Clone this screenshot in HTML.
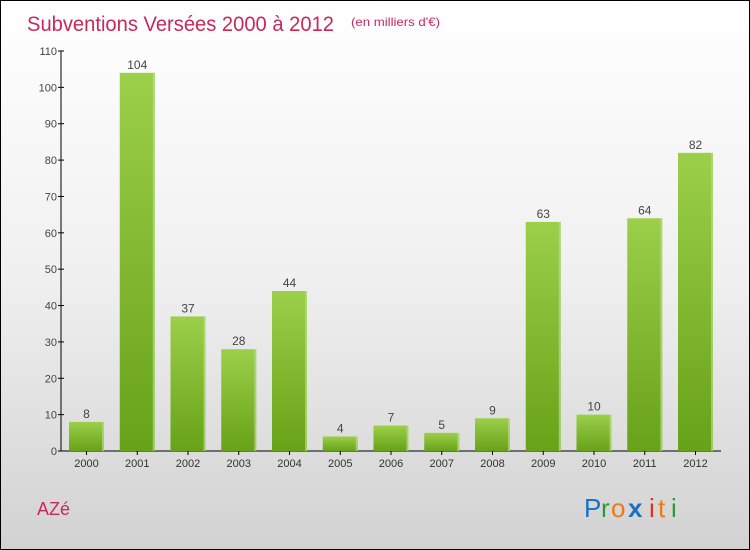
<!DOCTYPE html>
<html><head><meta charset="utf-8"><style>
body{margin:0}
#wrap{position:relative;width:748px;height:548px;border:1px solid #000;background:linear-gradient(#ffffff 0%,#f0f0f0 50%,#d2d2d2 100%);font-family:"Liberation Sans",sans-serif;overflow:hidden}
svg{position:absolute;left:0;top:0}
</style></head><body>
<div id="wrap">
<svg id="chart" width="750" height="550">
<defs>
<linearGradient id="bg" x1="0" y1="0" x2="0" y2="1"><stop offset="0" stop-color="#9ccf4a"/><stop offset="1" stop-color="#67a218"/></linearGradient>
</defs>
<text x="26" y="30" font-size="21" fill="#c8285c" textLength="307" lengthAdjust="spacingAndGlyphs">Subventions Versées 2000 à 2012</text>
<text x="350" y="25" font-size="12" fill="#c8285c" textLength="89" lengthAdjust="spacingAndGlyphs">(en milliers d'€)</text>
<text x="36" y="514" font-size="18" fill="#c8285c">AZé</text>
<g font-size="26" font-family="'Liberation Sans',sans-serif">
<text x="583" y="516" fill="#1a70c8">P</text><text x="600" y="516" fill="#2a9a3a">r</text><text x="610" y="516" fill="#f07a10">o</text><text x="627" y="516" fill="#1a70c8" font-weight="bold">x</text><text x="648" y="516" fill="#e03020">i</text><text x="657" y="516" fill="#f07a10">t</text><text x="670" y="516" fill="#2a9a3a">i</text>
</g>
</svg>
</div>
<script>
const categories=["2000","2001","2002","2003","2004","2005","2006","2007","2008","2009","2010","2011","2012"];
const values=[8,104,37,28,44,4,7,5,9,63,10,64,82];
const yTicks=[0,10,20,30,40,50,60,70,80,90,100,110];
const NS="http://www.w3.org/2000/svg";
const svg=document.getElementById('chart');
const y0=450,yTop=50,yMax=110,x0=60,step=50.75,bw=35;
function yScale(v){return y0-(v/yMax)*(y0-yTop);}
function xCenter(i){return 85.5+i*step;}
function mk(t,a){const e=document.createElementNS(NS,t);for(const k in a)e.setAttribute(k,a[k]);svg.appendChild(e);return e;}
let ax=mk('line',{x1:x0,y1:yTop,x2:x0,y2:y0,stroke:'#000'});


let bx=mk('line',{x1:x0,y1:y0,x2:720,y2:y0,stroke:'#000'});


yTicks.forEach(v=>{const y=yScale(v);
 let t=mk('line',{x1:x0-3,y1:y,x2:x0+3,y2:y,stroke:'#000'});
 
 
 let l=mk('text',{x:x0-4,y:y+4,'font-size':11,fill:'#444','text-anchor':'end'});l.textContent=v;
 
 
});
categories.forEach((c,i)=>{const cx=xCenter(i),v=values[i],y=yScale(v);
 let b=mk('rect',{x:cx-bw/2,y:y,width:bw,height:y0-y,fill:'url(#bg)'});
 
 
 let e=mk('rect',{x:cx+bw/2-2,y:y,width:2,height:y0-y,fill:'#b5dd80',opacity:0.7});
 
 
 let tk=mk('line',{x1:cx,y1:y0,x2:cx,y2:y0+4,stroke:'#000'});
 
 
 let lb=mk('text',{x:cx,y:y0+16,'font-size':11,fill:'#333','text-anchor':'middle'});lb.textContent=c;
 
 
 let vl=mk('text',{x:cx,y:y-4,'font-size':12,fill:'#444','text-anchor':'middle'});vl.textContent=v;
 
 
});
</script>
</body></html>
